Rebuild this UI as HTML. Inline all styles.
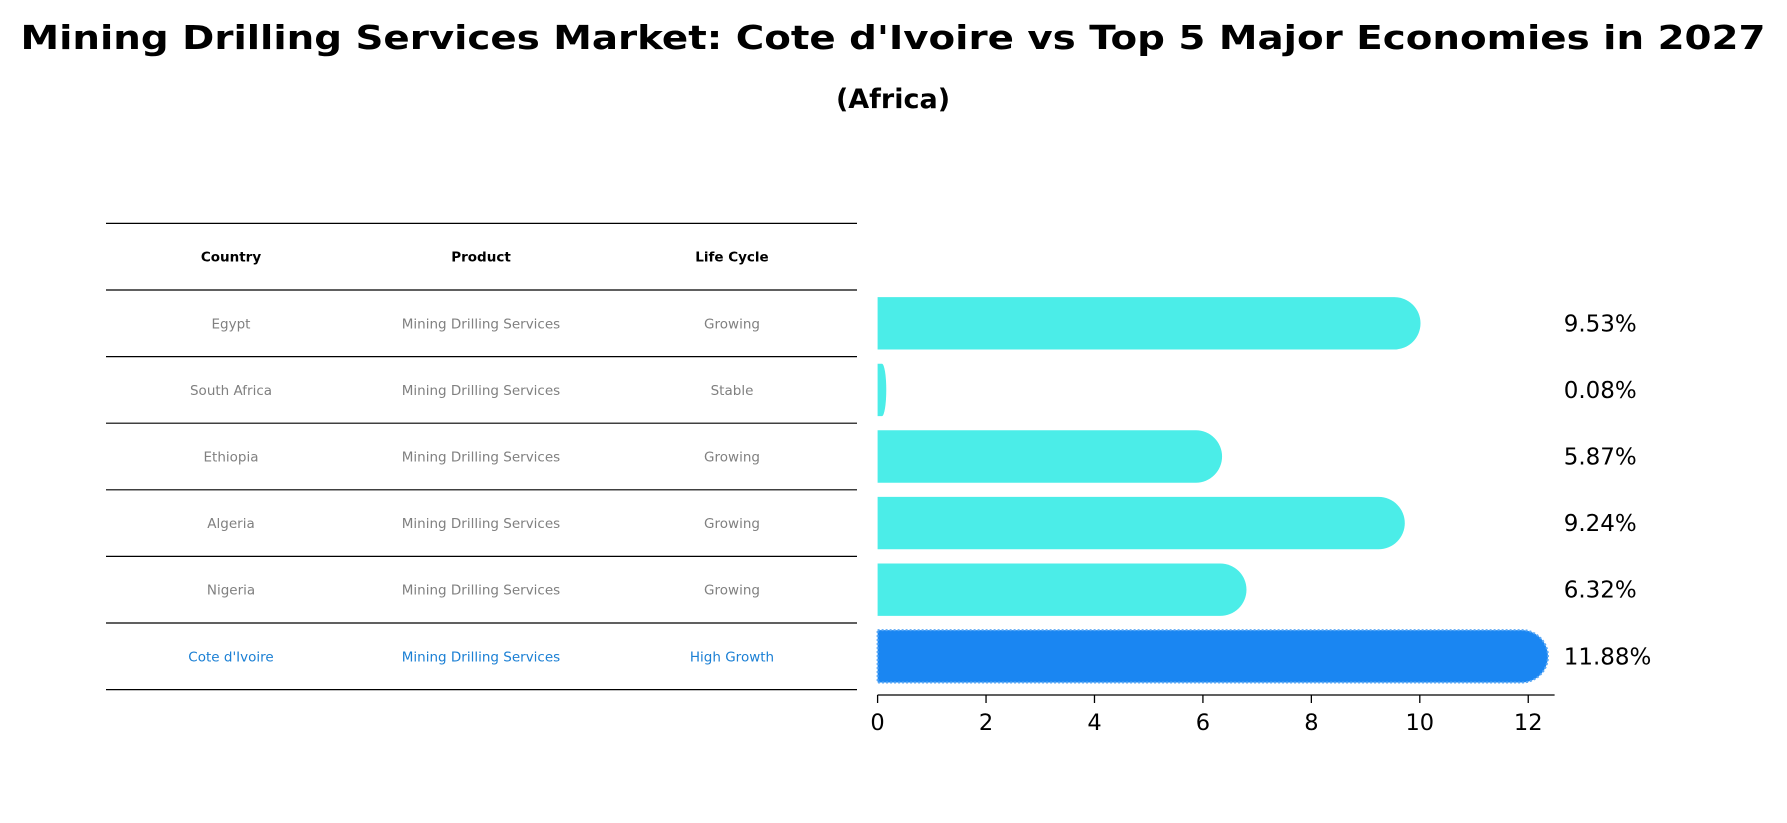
<!DOCTYPE html>
<html><head><meta charset="utf-8">
<style>
body{margin:0;background:#fff;}
svg{display:block;font-family:"DejaVu Sans","Liberation Sans",sans-serif;}
</style></head>
<body>
<svg id="chart" width="1787" height="823" viewBox="0 0 1787 823">
<text x="893" y="49" text-anchor="middle" font-size="33" font-weight="bold" textLength="1745" lengthAdjust="spacingAndGlyphs">Mining Drilling Services Market: Cote d'Ivoire vs Top 5 Major Economies in 2027</text>
<text x="893" y="108" text-anchor="middle" font-size="27" font-weight="bold">(Africa)</text>
<g id="table"></g>
<g id="bars"></g>
<g id="axis"></g>
</svg>
<script>
const countries = ["Egypt","South Africa","Ethiopia","Algeria","Nigeria","Cote d'Ivoire"];
const products = ["Mining Drilling Services","Mining Drilling Services","Mining Drilling Services","Mining Drilling Services","Mining Drilling Services","Mining Drilling Services"];
const lifeCycles = ["Growing","Stable","Growing","Growing","Growing","High Growth"];
const values = [9.53,0.08,5.87,9.24,6.32,11.88];
const valueLabels = ["9.53%","0.08%","5.87%","9.24%","6.32%","11.88%"];
const ticks = [0,2,4,6,8,10,12];
const headers = ["Country","Product","Life Cycle"];

const NS="http://www.w3.org/2000/svg";
function mk(tag,attrs,parent,txt){const e=document.createElementNS(NS,tag);for(const k in attrs)e.setAttribute(k,attrs[k]);if(txt!==undefined)e.textContent=txt;parent.appendChild(e);return e;}
const x0=877.6, unit=54.22;
const xs=v=>x0+v*unit;
const rowTop=290, rowH=66.6, tableTop=223.4;
const ys=i=>rowTop+rowH*i+rowH/2;
const colX=[231,481,732];

const tbl=document.getElementById('table');
for(let i=0;i<=7;i++){
  const y=tableTop+rowH*i;
  const l=mk('line',{x1:106,x2:857,y1:y,y2:y,stroke:'#000','stroke-width':1.2},tbl);
  
  
}
headers.forEach((h,j)=>{
  const t=mk('text',{x:colX[j],y:tableTop+rowH/2+5,'text-anchor':'middle','font-size':13.5,'font-weight':'bold'},tbl,h);
  
  
});
countries.forEach((c,i)=>{
  const hl=i===countries.length-1;
  const col=hl?'#1a7fd4':'#808080';
  [c,products[i],lifeCycles[i]].forEach((s,j)=>{
    const t=mk('text',{x:colX[j],y:ys(i)+5,'text-anchor':'middle','font-size':13.5,fill:col},tbl,s);
    
    
  });
});

const bars=document.getElementById('bars');
const bh=52.4, r=bh/2;
values.forEach((v,i)=>{
  const hl=i===values.length-1;
  const w=xs(v)-x0;
  const yc=ys(i), yt=yc-r, yb=yc+r;
  const rx=w<r?Math.max(w,1):r;
  const d=`M${x0},${yt} L${x0+w},${yt} A${rx},${r} 0 0 1 ${x0+w},${yb} L${x0},${yb} Z`;
  const p=mk('path',{d:d,fill:hl?'#1a86f2':'#4bede8',stroke:hl?'#5aa8f5':'none','stroke-width':hl?2:0,'stroke-dasharray':hl?'2,2':''},bars);
  
  
  const t=mk('text',{x:1563.7,y:yc+8,'font-size':23},bars,valueLabels[i]);
  
  
});

const ax=document.getElementById('axis');
const ay=695;
const al=mk('line',{x1:x0,x2:1554.6,y1:ay,y2:ay,stroke:'#000','stroke-width':1.3},ax);


ticks.forEach(tv=>{
  const tk=mk('line',{x1:xs(tv),x2:xs(tv),y1:ay,y2:ay+8,stroke:'#000','stroke-width':1.3},ax);
  
  
  const t=mk('text',{x:xs(tv),y:ay+35,'text-anchor':'middle','font-size':22.5},ax,String(tv));
  
  
});
</script>
</body></html>
